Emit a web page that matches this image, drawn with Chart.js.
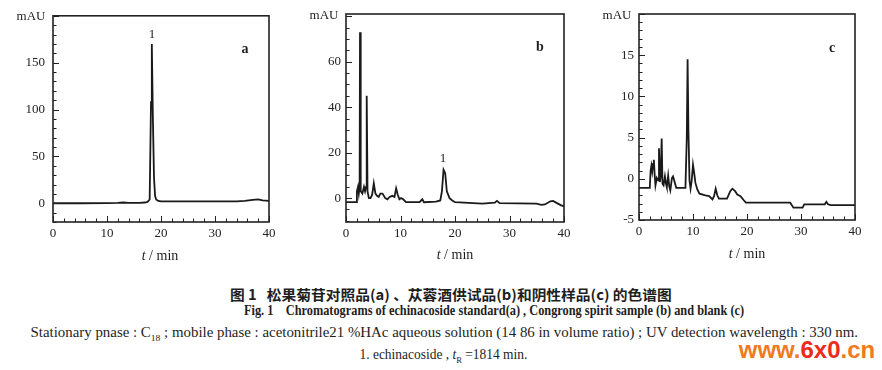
<!DOCTYPE html>
<html><head><meta charset="utf-8">
<script src="https://cdn.jsdelivr.net/npm/chart.js@4.4.1/dist/chart.umd.min.js"></script>
<style>
body{margin:0;background:#fff;width:882px;height:370px;overflow:hidden;position:relative;font-family:"Liberation Serif",serif;color:#1e1e1e}
.c{position:absolute;top:0}
.t{position:absolute;white-space:nowrap;line-height:1;transform:translate(-50%,-50%)}
.fit{position:absolute;white-space:nowrap;line-height:1}
</style></head><body>
<canvas id="ca" class="c" style="left:0px" width="290" height="270"></canvas>
<canvas id="cb" class="c" style="left:290px" width="290" height="270"></canvas>
<canvas id="cc" class="c" style="left:580px" width="302" height="270"></canvas>

<div class="t" style="left:31px;top:15px;font-size:13px">mAU</div>
<div class="t" style="left:152px;top:33px;font-size:13px">1</div>
<div class="t" style="left:245px;top:49px;font-size:14px;font-weight:bold">a</div>
<div class="t" style="left:160px;top:256px;font-size:14px"><i>t</i> / min</div>

<div class="t" style="left:324px;top:14px;font-size:13px">mAU</div>
<div class="t" style="left:443px;top:157px;font-size:13px">1</div>
<div class="t" style="left:540px;top:47px;font-size:14px;font-weight:bold">b</div>
<div class="t" style="left:455px;top:255px;font-size:14px"><i>t</i> / min</div>

<div class="t" style="left:617px;top:14px;font-size:13px">mAU</div>
<div class="t" style="left:832px;top:48px;font-size:14px;font-weight:bold">c</div>
<div class="t" style="left:747px;top:254px;font-size:14px"><i>t</i> / min</div>

<div class="fit" data-cx="451" data-cy="294" data-w="442" style="font-family:'Noto Sans CJK SC';font-weight:700;font-size:14px">图 1&nbsp;&nbsp;&nbsp;松果菊苷对照品(a) 、苁蓉酒供试品(b)和阴性样品(c) 的色谱图</div>
<div class="fit" data-cx="494" data-cy="311" data-w="500" style="font-weight:bold;font-size:14px">Fig. 1&nbsp;&nbsp;&nbsp;&nbsp;Chromatograms of echinacoside standard(a) , Congrong spirit sample (b) and blank (c)</div>
<div class="fit" data-cx="444" data-cy="334" data-w="828" style="font-size:14px">Stationary pnase : C<sub style="font-size:9px">18</sub> ; mobile phase : acetonitrile21 %HAc aqueous solution (14 86 in volume ratio) ; UV detection wavelength : 330 nm.</div>
<div class="fit" data-cx="443" data-cy="356" data-w="168" style="font-size:14px">1. echinacoside , <i>t</i><sub style="font-size:9px">R</sub> =1814 min.</div>
<div class="t" style="left:807px;top:350px;font-family:'Liberation Sans';font-weight:bold;font-size:24px;color:#f07a1e;letter-spacing:0px">www.<span style="color:#ee2a1a">6x0</span>.cn</div>

<script>
// ---- data (time in min, signal in mAU) ----
const aTime   = [0, 5, 10, 12, 13, 14, 16, 17, 17.5, 17.9, 18.0, 18.15, 18.3, 18.5, 18.7, 18.9, 19.1, 19.5, 20, 25, 30, 34, 35.5, 37, 38, 38.8, 40];
const aSignal = [0, 0, 0.2, 0.3, 0.8, 0.4, 0.5, 0.8, 1.5, 4, 45, 108, 170, 90, 28, 8, 4, 2.5, 2, 2, 2, 2, 2.5, 3.5, 4.2, 3, 2.5];

const bTime   = [0, 1.9, 2.0, 2.2, 2.35, 2.5, 2.57, 2.7, 3.0, 3.3, 3.5, 3.7, 3.8, 3.95, 4.2, 4.5, 4.8, 5.1, 5.4, 5.7, 6.0, 6.3, 6.7, 7.2, 7.6, 8.0, 8.5, 8.9, 9.2, 9.5, 9.8, 10.1, 10.5, 11, 13.5, 14.0, 14.3, 16.5, 17.3, 17.6, 17.9, 18.2, 18.5, 19, 19.5, 20, 25, 27.3, 27.7, 28.2, 35, 35.8, 36.5, 37.5, 38, 38.7, 39.5, 40];
const bSignal = [-1.8, -1.8, 3, 5, 2, 5, 73, 3, 2, 5, 3, 5, 45, 3, 0, 0, 1.5, 6.5, 2, 1, 0.5, 2, 2, 0, -0.5, 0.5, 1, 0.5, 4.3, 1.5, -0.5, 0, -0.5, -1.8, -1.8, -0.5, -1.8, -1.5, -1.0, 3, 12.5, 11, 3, 0, -1, -1.8, -2.4, -2.0, -1.2, -2.2, -2.4, -3.0, -2.8, -1.4, -1.2, -2.2, -3.2, -3.6];

const cTime   = [0, 2.0, 2.15, 2.3, 2.45, 2.6, 2.75, 2.9, 3.05, 3.3, 3.55, 3.7, 3.85, 4.0, 4.2, 4.35, 4.55, 4.8, 5.0, 5.15, 5.4, 5.6, 5.8, 6.1, 6.3, 6.6, 6.9, 8.6, 8.85, 9.0, 9.15, 9.35, 9.55, 9.75, 10.0, 10.2, 10.45, 10.8, 11.2, 12.3, 13.0, 13.6, 13.9, 14.2, 14.5, 14.8, 16.3, 16.9, 17.3, 17.8, 18.2, 18.8, 19.4, 19.8, 28.0, 28.6, 30.3, 30.6, 34.4, 34.7, 35.0, 35.5, 40];
const cSignal = [-1.1, -1.1, 1.0, 1.6, 0.9, 1.8, 2.3, 0.5, -0.8, 0.1, -0.2, 3.7, -0.4, 0.2, 4.9, -0.6, -0.8, 0.3, -0.6, -1.0, 0.4, -0.9, -1.4, 0.1, 0.3, -0.4, -1.1, -1.1, 5, 14.5, 6, -0.2, -1.2, -0.3, 1.7, 0.8, -0.5, -1.3, -1.8, -2.0, -2.1, -2.5, -2.1, -1.2, -2.0, -2.4, -2.4, -1.5, -1.2, -1.5, -1.9, -2.1, -2.6, -2.9, -2.9, -3.5, -3.5, -3.1, -3.1, -2.8, -3.1, -3.2, -3.2];

const xTickLabels = [0, 10, 20, 30, 40];
const aTickLabels = [0, 50, 100, 150];
const bTickLabels = [0, 20, 40, 60];
const cTickLabels = [-5, 0, 5, 10, 15];

// ---- frame + inward tick marks ----
const framePlugin = {
  id: 'frame',
  afterDatasetsDraw(chart, args, o) {
    const {ctx, chartArea: a, scales: {x, y}} = chart;
    ctx.save();
    ctx.strokeStyle = '#222';
    ctx.lineWidth = 1.6;
    ctx.strokeRect(a.left, a.top, a.right - a.left, a.bottom - a.top);
    ctx.lineWidth = 1;
    ctx.beginPath();
    for (let v = x.min; v <= x.max + 1e-9; v += o.xStep) {
      const px = Math.round(x.getPixelForValue(v)) + 0.5;
      const L = (Math.abs(v % o.xMajor) < 1e-6) ? 6 : 3.5;
      ctx.moveTo(px, a.bottom); ctx.lineTo(px, a.bottom - L);
    }
    const start = Math.ceil(y.min / o.yStep) * o.yStep;
    for (let v = start; v <= y.max + 1e-9; v += o.yStep) {
      const py = Math.round(y.getPixelForValue(v)) + 0.5;
      const L = (Math.abs(v % o.yMajor) < 1e-6) ? 6 : 3.5;
      ctx.moveTo(a.left, py); ctx.lineTo(a.left + L, py);
    }
    ctx.stroke();
    ctx.restore();
  }
};

function makeChart(id, time, signal, ymin, ymax, yTicks, pad, yWidth, yPad, marks) {
  const pts = time.map((t, i) => ({x: t, y: signal[i]}));
  return new Chart(document.getElementById(id), {
    type: 'line',
    data: {datasets: [{data: pts, borderColor: '#1a1a1a', borderWidth: 1.8, pointRadius: 0, tension: 0, fill: false}]},
    options: {
      responsive: false, animation: false, devicePixelRatio: 1,
      layout: {padding: pad, autoPadding: false},
      plugins: {legend: {display: false}, tooltip: {enabled: false}, frame: marks},
      scales: {
        x: {
          type: 'linear', min: 0, max: 40,
          grid: {display: false, drawTicks: false}, border: {display: false},
          afterBuildTicks: s => { s.ticks = xTickLabels.map(v => ({value: v})); },
          afterFit: s => { s.height = 30; },
          ticks: {padding: 4, color: '#222', font: {family: 'Liberation Serif', size: 13}, maxRotation: 0}
        },
        y: {
          type: 'linear', min: ymin, max: ymax,
          grid: {display: false, drawTicks: false}, border: {display: false},
          afterBuildTicks: s => { s.ticks = yTicks.map(v => ({value: v})); },
          afterFit: s => { s.width = yWidth; },
          ticks: {padding: yPad, color: '#222', font: {family: 'Liberation Serif', size: 13}}
        }
      }
    },
    plugins: [framePlugin]
  });
}

makeChart('ca', aTime, aSignal, -20, 200, aTickLabels, {left: 0, top: 15, right: 21, bottom: 18}, 53, 8, {xStep: 2, xMajor: 10, yStep: 10, yMajor: 50});
makeChart('cb', bTime, bSignal, -10.5, 81, bTickLabels, {left: 0, top: 14, right: 16, bottom: 18}, 56, 5, {xStep: 2, xMajor: 10, yStep: 5, yMajor: 20});
makeChart('cc', cTime, cSignal, -5, 20, cTickLabels, {left: 0, top: 14, right: 27, bottom: 20}, 59, 5, {xStep: 2, xMajor: 10, yStep: 1, yMajor: 5});

// fit caption lines to their widths
document.querySelectorAll('.fit').forEach(el => {
  const w = el.offsetWidth, h = el.offsetHeight;
  const k = (+el.dataset.w) / w;
  el.style.left = (+el.dataset.cx - w / 2) + 'px';
  el.style.top = (+el.dataset.cy - h / 2) + 'px';
  el.style.transform = 'scaleX(' + k + ')';
});
</script>
</body></html>
